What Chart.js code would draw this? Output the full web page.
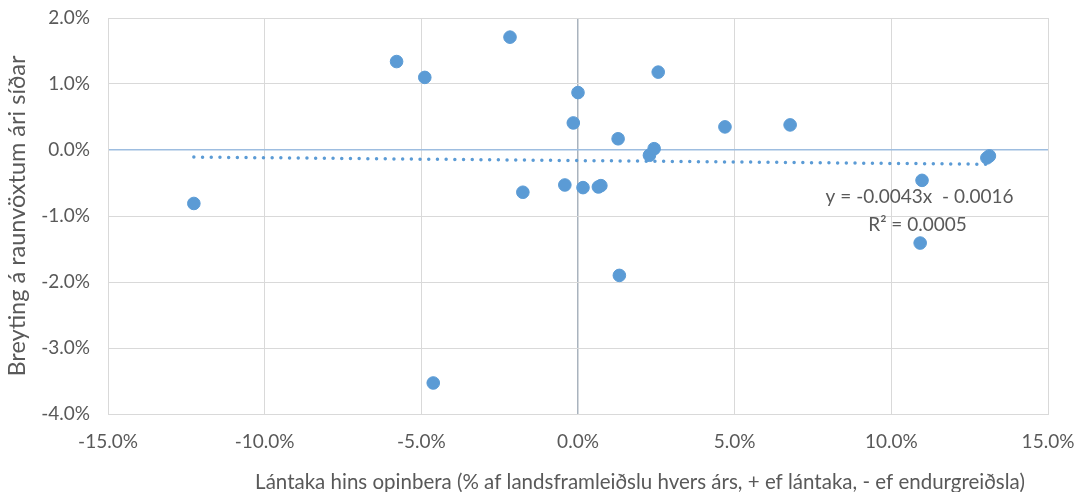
<!DOCTYPE html>
<html>
<head>
<meta charset="utf-8">
<script src="https://cdn.jsdelivr.net/npm/chart.js@4"></script>
<style>
	html, body { margin: 0; padding: 0; background: #ffffff; }
	#wrap { width: 1080px; height: 492px; }
</style>
</head>
<body>
<div id="wrap"><canvas id="canvasScatter" width="1080" height="492"></canvas></div>
<script>
"use strict";

// Lántaka hins opinbera (% af VLF) og breyting á raunvöxtum ári síðar (%)
var borrowing = [-12.26, -5.79, -4.89, -4.62, -2.17, -1.76, -0.42, -0.15, 0.0, 0.16, 0.65, 0.73, 1.28, 1.32, 2.28, 2.43, 2.56, 4.69, 6.77, 10.92, 10.98, 13.05, 13.13];
var rateChange = [-0.81, 1.34, 1.10, -3.53, 1.71, -0.64, -0.53, 0.41, 0.87, -0.57, -0.56, -0.54, 0.17, -1.90, -0.08, 0.02, 1.18, 0.35, 0.38, -1.41, -0.46, -0.12, -0.09];

// Excel trendline as written on the chart (fractions)
var trendSlope = -0.0043;
var trendIntercept = -0.0016;
var trendLabel = ['y = -0.0043x  - 0.0016', 'R² = 0.0005'];
var trendLabelAt = { x: 10.9, y: -0.71 };

var xTitle = 'Lántaka hins opinbera (% af landsframleiðslu hvers árs, + ef lántaka, - ef endurgreiðsla)';
var yTitle = 'Breyting á raunvöxtum ári síðar';

var xTicks = [-15, -10, -5, 0, 5, 10, 15];
var yTicks = [-4, -3, -2, -1, 0, 1, 2];

var textColor = '#595959';
var gridColor = '#d9d9d9';
var pointColor = '#5b9bd5';
var fontFamily = "Lato, 'Open Sans', 'DejaVu Sans', sans-serif";

function $each(arr, fn) {
	for (var i = 0; i < arr.length; i++) {
		fn(i, arr[i]);
	}
}

function BuildPoints() {
	var pts = [];
	$each(borrowing, function (index, x) {
		pts.push({ x: x, y: rateChange[index] });
	});
	return pts;
}

function BuildTrend() {
	var xMin = Math.min.apply(null, borrowing);
	var xMax = Math.max.apply(null, borrowing);
	// slope is unitless, intercept is a fraction -> percent
	return [
		{ x: xMin, y: trendSlope * xMin + trendIntercept * 100 },
		{ x: xMax, y: trendSlope * xMax + trendIntercept * 100 }
	];
}

function FormatPct(value) {
	return value.toFixed(1) + '%';
}

// trendline equation + x axis title (Excel centres it on the whole chart, not the plot)
var textPlugin = {
	id: 'extraText',
	afterDatasetsDraw: function (chart) {
		var ctx = chart.ctx;
		var px = chart.scales.x.getPixelForValue(trendLabelAt.x);
		var py = chart.scales.y.getPixelForValue(trendLabelAt.y);
		ctx.save();
		ctx.fillStyle = textColor;
		ctx.font = '19px ' + fontFamily;
		ctx.textAlign = 'center';
		ctx.textBaseline = 'middle';
		ctx.fillText(trendLabel[0], px, py);
		ctx.fillText(trendLabel[1], px - 2, py + 28);

		ctx.font = '20.5px ' + fontFamily;
		ctx.fillText(xTitle, chart.width / 2 + 100, chart.height - 10);
		ctx.restore();
	}
};

const context = document.getElementById('canvasScatter');
const myChart = new Chart(context, {
	type: 'scatter',
	data: {
		datasets: [{
			label: 'Ár',
			data: BuildPoints(),
			backgroundColor: pointColor,
			borderColor: pointColor,
			pointRadius: 6.3,
			pointHoverRadius: 6.3,
			order: 1
		}, {
			type: 'line',
			label: 'Leitni',
			data: BuildTrend(),
			borderColor: pointColor,
			borderWidth: 3.5,
			borderDash: [0, 8.7],
			borderCapStyle: 'round',
			pointRadius: 0,
			fill: false,
			order: 2
		}]
	},
	options: {
		responsive: false,
		animation: false,
		events: [],
		layout: {
			padding: { left: 0, right: 32, top: 18, bottom: 0 }
		},
		plugins: {
			legend: { display: false },
			tooltip: { enabled: false }
		},
		scales: {
			x: {
				type: 'linear',
				min: -15,
				max: 15,
				afterBuildTicks: function (scale) {
					scale.ticks = xTicks.map(function (v) { return { value: v }; });
				},
				grid: {
					color: function (c) {
						return c.tick && c.tick.value === 0 ? '#a9b3be' : gridColor;
					},
					lineWidth: function (c) {
						return c.tick && c.tick.value === 0 ? 1.5 : 1;
					},
					drawTicks: false
				},
				border: { color: gridColor },
				ticks: {
					color: textColor,
					padding: 16,
					maxRotation: 0,
					font: { family: fontFamily, size: 19 },
					callback: FormatPct
				},
				title: { display: false },
				afterFit: function (scale) {
					scale.height = 78;
					scale.paddingLeft = 0;
					scale.paddingRight = 0;
				}
			},
			y: {
				type: 'linear',
				min: -4,
				max: 2,
				afterBuildTicks: function (scale) {
					scale.ticks = yTicks.map(function (v) { return { value: v }; });
				},
				grid: {
					color: function (c) {
						return c.tick && c.tick.value === 0 ? '#9dbde0' : gridColor;
					},
					lineWidth: function (c) {
						return c.tick && c.tick.value === 0 ? 1.5 : 1;
					},
					drawTicks: false
				},
				border: { color: gridColor },
				ticks: {
					color: textColor,
					padding: 18,
					font: { family: fontFamily, size: 19 },
					callback: FormatPct
				},
				title: {
					display: true,
					text: yTitle,
					color: textColor,
					font: { family: fontFamily, size: 23.5 },
					padding: { top: 3, bottom: 0 }
				},
				afterFit: function (scale) {
					scale.width = 108;
					scale.paddingTop = 0;
					scale.paddingBottom = 0;
				}
			}
		}
	},
	plugins: [textPlugin]
});
</script>
</body>
</html>
